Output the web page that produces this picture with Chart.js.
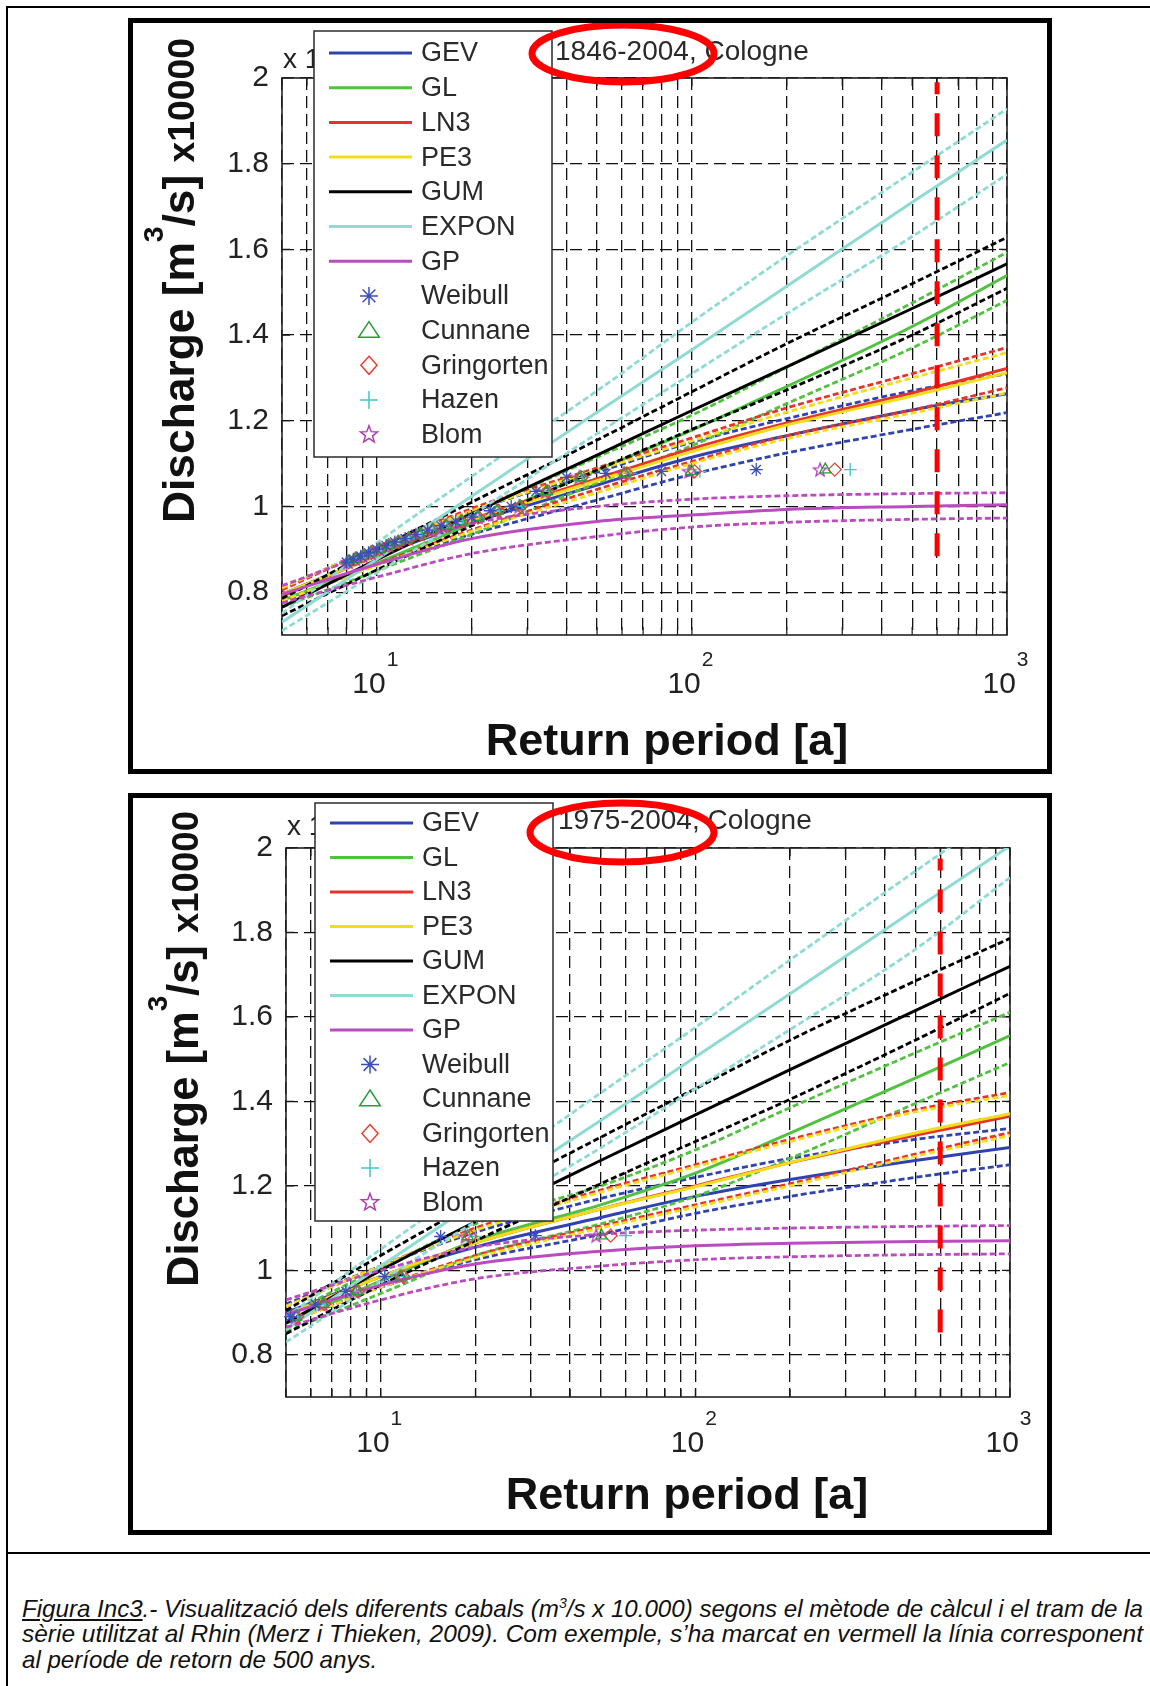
<!DOCTYPE html>
<html>
<head>
<meta charset="utf-8">
<title>Rhine at Cologne – flood frequency</title>
<script src="https://cdn.jsdelivr.net/npm/chart.js@4.4.1/dist/chart.umd.min.js"></script>
<style>
  html, body { margin: 0; padding: 0; background: #fff; }
  body { width: 1150px; height: 1686px; position: relative; overflow: hidden; }
  .rule { position: absolute; background: #000; }
  .frame { position: absolute; left: 128px; width: 914px; border: 5px solid #000; background: #fff; }
  #frameTop { top: 18px; height: 746px; }
  #frameBottom { top: 793px; height: 732px; }
  .frame canvas { position: absolute; left: 0; top: 0; }
  .cl {
    position: absolute; left: 22px; white-space: nowrap; transform-origin: 0 0;
    font: italic 24px/24px "Liberation Sans Narrow", "Liberation Sans", Arial, sans-serif; color: #111;
  }
  .cl sup { font-size: 14px; line-height: 0; vertical-align: 9px; }
</style>
</head>
<body>
<div class="rule" style="left:6px; top:6px; width:1144px; height:2px;"></div>
<div class="rule" style="left:6px; top:6px; width:2px; height:1680px;"></div>
<div class="rule" style="left:6px; top:1552px; width:1144px; height:2px;"></div>

<div class="frame" id="frameTop"><canvas id="chartTop" width="914" height="746"></canvas></div>
<div class="frame" id="frameBottom"><canvas id="chartBottom" width="914" height="732"></canvas></div>

<div class="cl" id="cap1" style="top:1597px;"><u>Figura Inc3</u>.- Visualització dels diferents cabals (m<sup>3</sup>/s x 10.000) segons el mètode de càlcul i el tram de la</div>
<div class="cl" id="cap2" style="top:1622px;">sèrie utilitzat al Rhin (Merz i Thieken, 2009). Com exemple, s’ha marcat en vermell la línia corresponent</div>
<div class="cl" id="cap3" style="top:1648px;">al període de retorn de 500 anys.</div>

<script>
const FONT = '"Liberation Sans", Arial, Helvetica, sans-serif';

// return periods [a] at which every fitted curve is listed
const returnPeriods = [5, 10, 20, 50, 100, 200, 500, 1000];
// log-axis grid positions and the labelled decades
const xGrid = [5, 6, 7, 8, 9, 10, 20, 30, 40, 50, 60, 70, 80, 90, 100, 200, 300, 400, 500, 600, 700, 800, 900, 1000];
const xDecades = [10, 100, 1000];
const xDecadeExp = ['1', '2', '3'];
const yTicks = [0.8, 1.0, 1.2, 1.4, 1.6, 1.8, 2.0];
const markPeriod = 600;

const distNames = ['GEV', 'GL', 'LN3', 'PE3', 'GUM', 'EXPON', 'GP'];
const distColors = ['#2f43b0', '#50c23f', '#e8332b', '#f0de1c', '#000000', '#8ddbd3', '#bb4cbf'];
const methodNames = ['Weibull', 'Cunnane', 'Gringorten', 'Hazen', 'Blom'];
const methodColors = ['#3a4fb8', '#2a9d3a', '#e8402f', '#3cc6c6', '#b03cb3'];

// ---- 1846-2004 series (discharge x10000 m3/s) ----
const gevA   = [0.795, 0.885, 0.962, 1.050, 1.115, 1.165, 1.225, 1.263];
const gevAHi = [0.810, 0.905, 0.990, 1.080, 1.150, 1.205, 1.270, 1.310];
const gevALo = [0.780, 0.865, 0.935, 1.015, 1.075, 1.125, 1.180, 1.219];
const glA    = [0.780, 0.868, 0.960, 1.085, 1.178, 1.280, 1.420, 1.539];
const glAHi  = [0.795, 0.888, 0.985, 1.115, 1.213, 1.325, 1.475, 1.593];
const glALo  = [0.765, 0.850, 0.935, 1.055, 1.142, 1.240, 1.370, 1.481];
const ln3A   = [0.790, 0.885, 0.970, 1.065, 1.135, 1.195, 1.265, 1.322];
const ln3AHi = [0.805, 0.905, 0.995, 1.090, 1.160, 1.230, 1.310, 1.371];
const ln3ALo = [0.775, 0.865, 0.945, 1.040, 1.105, 1.165, 1.225, 1.277];
const pe3A   = [0.795, 0.885, 0.968, 1.060, 1.128, 1.190, 1.258, 1.312];
const pe3AHi = [0.810, 0.905, 0.990, 1.085, 1.153, 1.220, 1.300, 1.359];
const pe3ALo = [0.780, 0.862, 0.942, 1.032, 1.100, 1.158, 1.218, 1.265];
const gumA   = [0.765, 0.876, 0.983, 1.120, 1.224, 1.326, 1.462, 1.566];
const gumAHi = [0.785, 0.900, 1.010, 1.155, 1.268, 1.380, 1.520, 1.628];
const gumALo = [0.745, 0.852, 0.955, 1.085, 1.180, 1.272, 1.400, 1.509];
const expA   = [0.730, 0.877, 1.024, 1.220, 1.366, 1.514, 1.710, 1.855];
const expAHi = [0.750, 0.915, 1.070, 1.270, 1.430, 1.585, 1.780, 1.928];
const expALo = [0.710, 0.845, 0.980, 1.170, 1.310, 1.450, 1.630, 1.775];
const gpA    = [0.795, 0.865, 0.925, 0.965, 0.980, 0.993, 1.000, 1.004];
const gpAHi  = [0.815, 0.895, 0.960, 1.000, 1.017, 1.025, 1.030, 1.032];
const gpALo  = [0.775, 0.835, 0.890, 0.930, 0.952, 0.963, 0.970, 0.973];

// largest annual peaks, ranked, and their plotting-position return periods
const peaksA = [1.086, 1.082, 1.077, 1.068, 1.035, 1.000, 0.990, 0.975, 0.965, 0.955,
                0.945, 0.935, 0.925, 0.917, 0.909, 0.900, 0.892, 0.884, 0.877, 0.870];
const weibullA    = [160, 80, 53.3, 40, 32, 26.7, 22.9, 20, 17.8, 16, 14.5, 13.3, 12.3, 11.4, 10.7, 10, 9.41, 8.89, 8.42, 8];
const cunnaneA    = [265, 99.5, 61.2, 44.2, 34.6, 28.4, 24.1, 20.9, 18.5, 16.6, 15.0, 13.7, 12.6, 11.7, 10.9, 10.2, 9.59, 9.04, 8.56, 8.12];
const gringortenA = [284, 102, 62.2, 44.7, 34.9, 28.6, 24.3, 21.0, 18.6, 16.6, 15.1, 13.8, 12.7, 11.7, 10.9, 10.2, 9.61, 9.06, 8.57, 8.13];
const hazenA      = [318, 106, 63.6, 45.4, 35.3, 28.9, 24.5, 21.2, 18.7, 16.7, 15.1, 13.8, 12.7, 11.8, 11.0, 10.3, 9.64, 9.08, 8.59, 8.15];
const blomA       = [255, 98.0, 60.7, 43.9, 34.4, 28.3, 24.0, 20.9, 18.5, 16.5, 15.0, 13.7, 12.6, 11.7, 10.9, 10.2, 9.58, 9.04, 8.55, 8.11];

// ---- 1975-2004 series ----
const gevB   = [0.900, 0.985, 1.055, 1.125, 1.175, 1.215, 1.260, 1.291];
const gevBHi = [0.920, 1.010, 1.090, 1.170, 1.220, 1.265, 1.310, 1.336];
const gevBLo = [0.880, 0.960, 1.025, 1.085, 1.135, 1.175, 1.220, 1.250];
const glB    = [0.875, 0.975, 1.070, 1.155, 1.230, 1.325, 1.455, 1.556];
const glBHi  = [0.895, 1.005, 1.110, 1.200, 1.285, 1.385, 1.515, 1.611];
const glBLo  = [0.855, 0.945, 1.035, 1.110, 1.175, 1.265, 1.395, 1.492];
const ln3B   = [0.895, 0.985, 1.065, 1.145, 1.200, 1.255, 1.320, 1.365];
const ln3BHi = [0.915, 1.010, 1.100, 1.190, 1.250, 1.310, 1.380, 1.421];
const ln3BLo = [0.875, 0.960, 1.035, 1.105, 1.155, 1.205, 1.275, 1.326];
const pe3B   = [0.895, 0.985, 1.065, 1.145, 1.198, 1.255, 1.325, 1.371];
const pe3BHi = [0.915, 1.010, 1.095, 1.185, 1.245, 1.305, 1.375, 1.414];
const pe3BLo = [0.875, 0.960, 1.030, 1.100, 1.150, 1.200, 1.270, 1.319];
const gumB   = [0.875, 1.000, 1.115, 1.260, 1.368, 1.475, 1.615, 1.720];
const gumBHi = [0.905, 1.035, 1.160, 1.315, 1.430, 1.545, 1.685, 1.786];
const gumBLo = [0.850, 0.965, 1.070, 1.205, 1.305, 1.405, 1.545, 1.656];
const expB   = [0.860, 1.010, 1.160, 1.355, 1.505, 1.655, 1.855, 2.005];
const expBHi = [0.890, 1.050, 1.210, 1.420, 1.575, 1.735, 1.945, 2.100];
const expBLo = [0.830, 0.975, 1.115, 1.290, 1.430, 1.570, 1.760, 1.930];
const gpB    = [0.895, 0.965, 1.015, 1.045, 1.058, 1.064, 1.068, 1.070];
const gpBHi  = [0.930, 1.000, 1.055, 1.085, 1.095, 1.100, 1.104, 1.106];
const gpBLo  = [0.865, 0.930, 0.980, 1.010, 1.025, 1.032, 1.037, 1.039];

const peaksB = [1.082, 1.080, 0.985, 0.950, 0.920, 0.890];
const weibullB    = [31, 15.5, 10.3, 7.75, 6.2, 5.17];
const cunnaneB    = [50.3, 18.9, 11.6, 8.39, 6.57, 5.39];
const gringortenB = [53.8, 19.3, 11.8, 8.46, 6.61, 5.42];
const hazenB      = [60, 20, 12, 8.57, 6.67, 5.45];
const blomB       = [48.4, 18.6, 11.5, 8.28, 6.55, 5.38];

// pentagram marker (Chart.js has no built-in one)
function pentagramPath(g, cx, cy, r) {
  g.beginPath();
  for (let k = 0; k < 10; k++) {
    const rr = k % 2 ? r * 0.42 : r;
    const a = -Math.PI / 2 + k * Math.PI / 5;
    const px = cx + rr * Math.cos(a), py = cy + rr * Math.sin(a);
    if (k) g.lineTo(px, py); else g.moveTo(px, py);
  }
  g.closePath();
}
function pentagramCanvas(color, r) {
  const c = document.createElement('canvas');
  const s = Math.ceil(r * 2 + 4);
  c.width = c.height = s;
  const g = c.getContext('2d');
  g.strokeStyle = color; g.lineWidth = 1.3;
  pentagramPath(g, s / 2, s / 2 + 0.5, r);
  g.stroke();
  return c;
}
const methodStyles = ['star', 'triangle', 'rectRot', 'cross', pentagramCanvas(methodColors[4], 7)];

function pts(values) {
  return values.map((v, i) => ({ x: returnPeriods[i], y: v }));
}

function curveSets(groups) {
  const out = [];
  groups.forEach((g, i) => {
    const [mid, hi, lo] = g;
    const base = {
      showLine: true, pointRadius: 0, borderColor: distColors[i],
      cubicInterpolationMode: 'monotone', fill: false, order: 20 - i
    };
    out.push(Object.assign({ label: distNames[i], data: pts(mid), borderWidth: 3 }, base));
    out.push(Object.assign({ label: distNames[i] + ' upper', data: pts(hi), borderWidth: 2.8, borderDash: [6, 3] }, base));
    out.push(Object.assign({ label: distNames[i] + ' lower', data: pts(lo), borderWidth: 2.8, borderDash: [6, 3] }, base));
  });
  return out;
}

function markerSets(periodLists, peaks) {
  return periodLists.map((periods, j) => ({
    label: methodNames[j],
    data: periods.map((t, i) => ({ x: t, y: peaks[i] })),
    showLine: false,
    pointStyle: methodStyles[j],
    pointRadius: 6.5,
    pointBorderColor: methodColors[j],
    pointBackgroundColor: 'rgba(0,0,0,0)',
    pointBorderWidth: 1.3,
    clip: false,
    order: 5
  }));
}

function markLine(yTop, yBottom) {
  return {
    label: 'T = ' + markPeriod,
    data: [{ x: markPeriod, y: yTop }, { x: markPeriod, y: yBottom }],
    showLine: true, pointRadius: 0, borderColor: '#ff0000', borderWidth: 5,
    borderDash: [23, 19], borderDashOffset: 11, borderCapStyle: 'butt', order: 0
  };
}

// per-canvas placement of the hand-drawn pieces (canvas pixels)
const layouts = {
  chartTop: {
    title: '1846-2004, Cologne', titleX: 422, titleY: 37,
    ring: { x: 490, y: 30.5, rx: 91, ry: 28.5 },
    legend: { left: 181, top: 8, right: 419, bottom: 434, row0: 30, step: 34.7 },
    expX: 150, expY: 45,
    yTitle: { x: 61, y: 500, len: 485 },
    xTitle: { x: 534, y: 732 },
    decadeBase: 58, expBase: 31
  },
  chartBottom: {
    title: '1975-2004, Cologne', titleX: 425, titleY: 31,
    ring: { x: 489, y: 34.5, rx: 92, ry: 29.5 },
    legend: { left: 182, top: 5, right: 420, bottom: 423, row0: 25, step: 34.5 },
    expX: 154, expY: 37,
    yTitle: { x: 65, y: 489, len: 476 },
    xTitle: { x: 554, y: 711 },
    decadeBase: 55, expBase: 28
  }
};

function drawMarker(ctx, j, x, y) {
  const c = methodColors[j], r = 9;
  ctx.save();
  ctx.strokeStyle = c; ctx.lineWidth = 1.5;
  ctx.beginPath();
  if (j === 0) {
    for (let k = 0; k < 4; k++) {
      const a = k * Math.PI / 4;
      ctx.moveTo(x - r * Math.cos(a), y - r * Math.sin(a));
      ctx.lineTo(x + r * Math.cos(a), y + r * Math.sin(a));
    }
  } else if (j === 1) {
    ctx.moveTo(x, y - r); ctx.lineTo(x + r * 1.15, y + r * 0.75); ctx.lineTo(x - r * 1.15, y + r * 0.75); ctx.closePath();
  } else if (j === 2) {
    ctx.moveTo(x, y - r); ctx.lineTo(x + r * 0.9, y); ctx.lineTo(x, y + r); ctx.lineTo(x - r * 0.9, y); ctx.closePath();
  } else if (j === 3) {
    ctx.moveTo(x - r, y); ctx.lineTo(x + r, y); ctx.moveTo(x, y - r); ctx.lineTo(x, y + r);
  } else {
    pentagramPath(ctx, x, y, r);
  }
  ctx.stroke();
  ctx.restore();
}

function drawLegend(ctx, L) {
  ctx.save();
  ctx.fillStyle = '#fff';
  ctx.fillRect(L.left, L.top, L.right - L.left, L.bottom - L.top);
  ctx.strokeStyle = '#2b2b2b'; ctx.lineWidth = 1.5;
  ctx.strokeRect(L.left, L.top, L.right - L.left, L.bottom - L.top);
  ctx.font = '27px ' + FONT; ctx.textBaseline = 'middle'; ctx.fillStyle = '#2a2a2a';
  distNames.forEach((n, i) => {
    const yy = L.row0 + i * L.step;
    ctx.strokeStyle = distColors[i]; ctx.lineWidth = 3;
    ctx.beginPath(); ctx.moveTo(L.left + 15, yy); ctx.lineTo(L.left + 98, yy); ctx.stroke();
    ctx.fillText(n, L.left + 107, yy + 1);
  });
  methodNames.forEach((n, j) => {
    const yy = L.row0 + (distNames.length + j) * L.step;
    drawMarker(ctx, j, L.left + 55, yy);
    ctx.fillText(n, L.left + 107, yy + 1);
  });
  ctx.restore();
}

function drawYTitle(ctx, T) {
  const parts = [
    ['Discharge [m', 'bold 44px ' + FONT, 0],
    ['3', 'bold 28px ' + FONT, -31],
    ['/s] ', 'bold 44px ' + FONT, 0],
    ['x10000', 'bold 37px ' + FONT, 0]
  ];
  ctx.save();
  let total = 0;
  parts.forEach(p => { ctx.font = p[1]; total += ctx.measureText(p[0]).width; });
  ctx.translate(T.x, T.y);
  ctx.rotate(-Math.PI / 2);
  ctx.scale(T.len / total, 1);
  ctx.fillStyle = '#111'; ctx.textBaseline = 'alphabetic';
  let cx = 0;
  parts.forEach(p => {
    ctx.font = p[1];
    ctx.fillText(p[0], cx, p[2]);
    cx += ctx.measureText(p[0]).width;
  });
  ctx.restore();
}

const decor = {
  id: 'decor',
  beforeDatasetsDraw(chart) {
    const { ctx, chartArea: a, scales: { x, y } } = chart;
    ctx.save();
    ctx.strokeStyle = '#1a1a1a'; ctx.lineWidth = 1.2;
    ctx.beginPath();
    yTicks.forEach(v => {
      const py = y.getPixelForValue(v);
      ctx.moveTo(a.left, py); ctx.lineTo(a.left + 8, py);
      ctx.moveTo(a.right, py); ctx.lineTo(a.right - 8, py);
    });
    xGrid.forEach(v => {
      const px = x.getPixelForValue(v);
      ctx.moveTo(px, a.bottom); ctx.lineTo(px, a.bottom - 8);
      ctx.moveTo(px, a.top); ctx.lineTo(px, a.top + 8);
    });
    ctx.stroke();
    ctx.lineWidth = 1.6; ctx.strokeStyle = '#222';
    ctx.strokeRect(a.left, a.top, a.right - a.left, a.bottom - a.top);
    ctx.restore();
  },
  afterDraw(chart) {
    const L = layouts[chart.canvas.id];
    const { ctx, chartArea: a, scales: { x } } = chart;
    ctx.save();
    ctx.fillStyle = '#222';

    // decade labels 10^n
    xDecades.forEach((v, i) => {
      const px = x.getPixelForValue(v);
      ctx.font = '30px ' + FONT;
      const w1 = ctx.measureText('10').width;
      ctx.font = '21px ' + FONT;
      const w2 = ctx.measureText(xDecadeExp[i]).width;
      const x0 = px - 2 - (w1 + w2) / 2;
      ctx.font = '30px ' + FONT;
      ctx.fillText('10', x0, a.bottom + L.decadeBase);
      ctx.font = '21px ' + FONT;
      ctx.fillText(xDecadeExp[i], x0 + w1 + 1, a.bottom + L.expBase);
    });

    // axis multiplier, mostly hidden behind the legend
    ctx.font = '28px ' + FONT;
    ctx.fillText('x 10', L.expX, L.expY);
    const wx = ctx.measureText('x 10').width;
    ctx.font = '20px ' + FONT;
    ctx.fillText('4', L.expX + wx + 1, L.expY - 13);

    drawYTitle(ctx, L.yTitle);

    ctx.font = 'bold 45px ' + FONT;
    ctx.fillStyle = '#111';
    ctx.textAlign = 'center';
    ctx.fillText('Return period [a]', L.xTitle.x, L.xTitle.y);
    ctx.textAlign = 'left';

    drawLegend(ctx, L.legend);

    ctx.font = '28px ' + FONT;
    ctx.fillStyle = '#2a2a2a';
    ctx.fillText(L.title, L.titleX, L.titleY);

    ctx.strokeStyle = '#ff0000'; ctx.lineWidth = 7;
    ctx.beginPath();
    ctx.ellipse(L.ring.x, L.ring.y, L.ring.rx, L.ring.ry, 0, 0, Math.PI * 2);
    ctx.stroke();
    ctx.restore();
  }
};

function makeChart(id, datasets, pad, yAxisWidth, xAxisHeight) {
  return new Chart(document.getElementById(id), {
    type: 'scatter',
    data: { datasets },
    options: {
      responsive: false,
      animation: false,
      devicePixelRatio: 1,
      layout: { padding: pad },
      plugins: { legend: { display: false }, tooltip: { enabled: false } },
      scales: {
        x: {
          type: 'logarithmic', min: 5, max: 1000,
          afterBuildTicks: s => { s.ticks = xGrid.map(v => ({ value: v })); },
          afterFit: s => { s.height = xAxisHeight; },
          grid: { color: '#111', lineWidth: 1.3, drawTicks: false },
          border: { display: false, dash: [12, 6] },
          ticks: { display: false }
        },
        y: {
          type: 'linear', min: 0.7, max: 2.0,
          afterBuildTicks: s => { s.ticks = yTicks.map(v => ({ value: v })); },
          afterFit: s => { s.width = yAxisWidth; },
          grid: { color: '#111', lineWidth: 1.3, drawTicks: false },
          border: { display: false, dash: [12, 6] },
          ticks: {
            padding: 13, color: '#222',
            font: { family: FONT, size: 30 },
            callback: v => String(parseFloat(Number(v).toFixed(1)))
          }
        }
      }
    },
    plugins: [decor]
  });
}

makeChart('chartTop', [
  markLine(1.99, 0.878),
  ...markerSets([weibullA, cunnaneA, gringortenA, hazenA, blomA], peaksA),
  ...curveSets([
    [gevA, gevAHi, gevALo], [glA, glAHi, glALo], [ln3A, ln3AHi, ln3ALo], [pe3A, pe3AHi, pe3ALo],
    [gumA, gumAHi, gumALo], [expA, expAHi, expALo], [gpA, gpAHi, gpALo]
  ])
], { top: 55, right: 40, left: 0, bottom: 0 }, 149, 134);

makeChart('chartBottom', [
  markLine(1.975, 0.845),
  ...markerSets([weibullB, cunnaneB, gringortenB, hazenB, blomB], peaksB),
  ...curveSets([
    [gevB, gevBHi, gevBLo], [glB, glBHi, glBLo], [ln3B, ln3BHi, ln3BLo], [pe3B, pe3BHi, pe3BLo],
    [gumB, gumBHi, gumBLo], [expB, expBHi, expBLo], [gpB, gpBHi, gpBLo]
  ])
], { top: 50, right: 37, left: 0, bottom: 0 }, 153, 133);

// caption lines are stretched to the justified block width
(function fitCaption() {
  const target = 1121;
  const l1 = document.getElementById('cap1');
  const l2 = document.getElementById('cap2');
  const l3 = document.getElementById('cap3');
  const k1 = target / l1.getBoundingClientRect().width;
  const k2 = target / l2.getBoundingClientRect().width;
  l1.style.transform = 'scaleX(' + k1 + ')';
  l2.style.transform = 'scaleX(' + k2 + ')';
  l3.style.transform = 'scaleX(' + k1 + ')';
})();
</script>
</body>
</html>
